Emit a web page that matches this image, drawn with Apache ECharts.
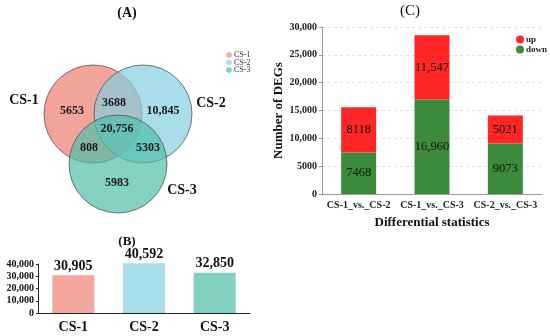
<!DOCTYPE html>
<html><head><meta charset="utf-8">
<script src="https://cdn.jsdelivr.net/npm/echarts@6/dist/echarts.min.js"></script>
<style>html,body{margin:0;padding:0;background:#fff}#c{width:550px;height:336px}</style>
</head><body><div id="c"></div>
<script>
// ---- Data ----
var vennSets = ['CS-1', 'CS-2', 'CS-3'];
var vennSetColors = ['rgba(236,126,113,0.7)', 'rgba(132,206,225,0.7)', 'rgba(79,191,168,0.7)'];
var legendDotColors = ['#F4A79D', '#A8DDEB', '#82D0C1'];
// region counts: 1 only, 2 only, 3 only, 1&2, 1&3, 2&3, 1&2&3
var vennRegions = ['1', '2', '3', '12', '13', '23', '123'];
var vennCounts = [5653, 10845, 5983, 3688, 808, 5303, 20756];

var totalCategories = ['CS-1', 'CS-2', 'CS-3'];
var totalValues = [30905, 40592, 32850];
var totalColors = ['#F4A79D', '#A8DDEB', '#82D0C1'];
var totalTicks = [0, 10000, 20000, 30000, 40000];

var degCategories = ['CS-1_vs._CS-2', 'CS-1_vs._CS-3', 'CS-2_vs._CS-3'];
var degDown = [7468, 16960, 9073];
var degUp = [8118, 11547, 5021];
var degTicks = [0, 5000, 10000, 15000, 20000, 25000, 30000];

function fmt(v) { return v >= 10000 ? v.toLocaleString('en-US') : String(v); }

var serif = '"Liberation Serif", "DejaVu Serif", serif';
var chart = echarts.init(document.getElementById('c'));

// Venn layout (geometry only)
var circ = [
  { cx: 93, cy: 114, r: 49 },
  { cx: 143, cy: 114, r: 49 },
  { cx: 118, cy: 164, r: 49 }
];
var regionPos = {
  '1': [72, 111], '2': [163, 111], '3': [117, 183],
  '12': [114, 103], '13': [89, 148], '23': [148, 148], '123': [117, 129]
};
var setLabelPos = [[24, 100], [211, 103], [182, 190]];

var graphics = [];
circ.forEach(function (c, i) {
  graphics.push({ type: 'circle', shape: c, style: { fill: vennSetColors[i], stroke: '#555', lineWidth: 0.8 }, z: 1 + i });
});
vennRegions.forEach(function (k, i) {
  graphics.push({ type: 'text', x: regionPos[k][0], y: regionPos[k][1], z: 10,
    style: { text: fmt(vennCounts[i]), font: 'bold 12px ' + serif, fill: '#1a1a1a', align: 'center', verticalAlign: 'middle' } });
});
vennSets.forEach(function (s, i) {
  graphics.push({ type: 'text', x: setLabelPos[i][0], y: setLabelPos[i][1], z: 10,
    style: { text: s, font: 'bold 14px ' + serif, fill: '#111', align: 'center', verticalAlign: 'middle' } });
  graphics.push({ type: 'circle', shape: { cx: 229, cy: 55 + i * 7.5, r: 2.8 }, style: { fill: legendDotColors[i] }, z: 10 });
  graphics.push({ type: 'text', x: 234, y: 55 + i * 7.5, z: 10,
    style: { text: s, font: '8px ' + serif, fill: '#333', align: 'left', verticalAlign: 'middle' } });
});
graphics.push({ type: 'text', x: 127, y: 13, style: { text: '(A)', font: 'bold 14px ' + serif, fill: '#111', align: 'center', verticalAlign: 'middle' } });
graphics.push({ type: 'text', x: 127, y: 242, style: { text: '(B)', font: 'bold 13px ' + serif, fill: '#111', align: 'center', verticalAlign: 'middle' } });
graphics.push({ type: 'text', x: 410, y: 11, style: { text: '(C)', font: '15px ' + serif, fill: '#111', align: 'center', verticalAlign: 'middle' } });

var option = {
  animation: false,
  backgroundColor: '#fff',
  graphic: graphics,
  legend: {
    data: ['up', 'down'], orient: 'vertical', left: 511, top: 30,
    icon: 'circle', itemWidth: 8, itemHeight: 8, itemGap: 1,
    textStyle: { fontFamily: serif, fontWeight: 'bold', fontSize: 9, color: '#222', padding: [0, 0, 0, -3] }
  },
  grid: [
    { left: 38, top: 264, width: 212, height: 49 },
    { left: 322, top: 27, width: 220, height: 167 }
  ],
  xAxis: [
    { gridIndex: 0, type: 'category', data: totalCategories,
      axisLine: { lineStyle: { color: '#222', width: 1 } },
      axisTick: { alignWithLabel: true, length: 3, lineStyle: { color: '#222' } },
      axisLabel: { fontFamily: serif, fontWeight: 'bold', fontSize: 14, color: '#111', margin: 7 } },
    { gridIndex: 1, type: 'category', data: degCategories,
      name: 'Differential statistics', nameLocation: 'middle', nameGap: 22,
      nameTextStyle: { fontFamily: serif, fontWeight: 'bold', fontSize: 13, color: '#111' },
      axisLine: { lineStyle: { color: '#999', width: 1 } },
      axisTick: { length: 3, lineStyle: { color: '#999' } },
      axisLabel: { interval: 0, hideOverlap: false, fontFamily: serif, fontWeight: 'bold', fontSize: 10, color: '#222', margin: 6 } }
  ],
  yAxis: [
    { gridIndex: 0, type: 'value', min: totalTicks[0], max: totalTicks[totalTicks.length - 1], interval: 10000,
      splitLine: { show: false },
      axisLine: { show: true, lineStyle: { color: '#222' } },
      axisTick: { show: true, length: 2, lineStyle: { color: '#222' } },
      axisLabel: { fontFamily: serif, fontWeight: 'bold', fontSize: 10, color: '#111', margin: 4,
        formatter: function (v) { return v === 0 ? '0' : v.toLocaleString('en-US'); } } },
    { gridIndex: 1, type: 'value', min: degTicks[0], max: degTicks[degTicks.length - 1], interval: 5000,
      name: 'Number of DEGs', nameLocation: 'middle', nameGap: 30, nameRotate: 90,
      nameTextStyle: { fontFamily: serif, fontWeight: 'bold', fontSize: 13, color: '#111' },
      splitLine: { show: true, lineStyle: { color: '#e3e3e3', type: [3, 3] } },
      axisLine: { show: true, lineStyle: { color: '#999' } },
      axisTick: { show: true, length: 3, lineStyle: { color: '#999' } },
      axisLabel: { fontFamily: serif, fontWeight: 'bold', fontSize: 10, color: '#222', margin: 5,
        formatter: function (v) { return v >= 10000 ? v.toLocaleString('en-US') : String(v); } } }
  ],
  series: [
    { type: 'bar', name: 'total', xAxisIndex: 0, yAxisIndex: 0, barWidth: 42, clip: false,
      data: totalValues.map(function (v, i) { return { value: v, itemStyle: { color: totalColors[i] } }; }),
      label: { show: true, position: 'top', distance: 2, fontFamily: serif, fontWeight: 'bold', fontSize: 14, color: '#111',
        formatter: function (p) { return p.value.toLocaleString('en-US'); } } },
    { type: 'bar', name: 'down', xAxisIndex: 1, yAxisIndex: 1, stack: 'deg', barWidth: 35,
      itemStyle: { color: '#3B8B3B' }, data: degDown,
      label: { show: true, position: 'inside', fontFamily: serif, fontSize: 12.5, color: '#111',
        formatter: function (p) { return fmt(p.value); } } },
    { type: 'bar', name: 'up', xAxisIndex: 1, yAxisIndex: 1, stack: 'deg', barWidth: 35,
      itemStyle: { color: '#FF2626' }, data: degUp,
      label: { show: true, position: 'inside', fontFamily: serif, fontSize: 12.5, color: '#111',
        formatter: function (p) { return fmt(p.value); } } }
  ]
};
chart.setOption(option);
</script></body></html>
